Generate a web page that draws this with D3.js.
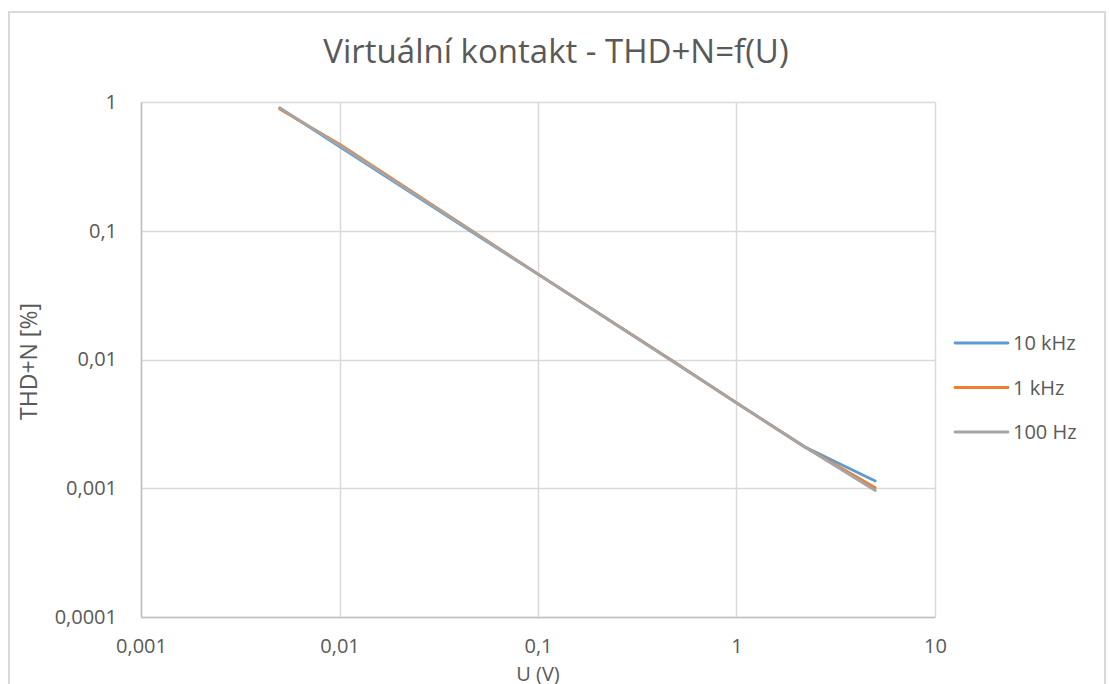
<!DOCTYPE html>
<html>
<head>
<meta charset="utf-8">
<script src="https://cdn.jsdelivr.net/npm/d3@7"></script>
<style>
  body { margin: 0; background: #fff; }
  text { font-family: "Open Sans", "Liberation Sans", sans-serif; fill: #595959; }
</style>
</head>
<body>
<script>
// data
var voltages = [0.005, 0.01, 0.05, 0.1, 0.5, 1, 2.2, 5];
var thd10k  = [0.9, 0.45, 0.091, 0.046, 0.0093, 0.0046, 0.0021, 0.00114];
var thd1k   = [0.88, 0.47, 0.093, 0.046, 0.0093, 0.0046, 0.0021, 0.00101];
var thd100  = [0.9, 0.46, 0.092, 0.046, 0.0092, 0.0046, 0.0021, 0.00096];
var seriesNames = ["10 kHz", "1 kHz", "100 Hz"];
var xTicks = [0.001, 0.01, 0.1, 1, 10];
var yTicks = [0.0001, 0.001, 0.01, 0.1, 1];
var colors = ["#5B9BD5", "#ED7D31", "#A5A5A5"];

var W = 1109, H = 684;
var margin = {top: 102, right: 174, bottom: 67, left: 141};
var width = W - margin.left - margin.right;
var height = H - margin.top - margin.bottom;

var svg = d3.select("body").append("svg")
    .attr("width", W)
    .attr("height", H);

// chart frame
svg.append("rect")
    .attr("x", 9).attr("y", 12)
    .attr("width", 1096).attr("height", 700)
    .attr("fill", "#fff")
    .attr("stroke", "#d9d9d9")
    .attr("stroke-width", 2);

svg.append("text")
    .attr("x", 556).attr("y", 63)
    .attr("text-anchor", "middle")
    .style("font-size", "33px")
    .text("Virtuální kontakt - THD+N=f(U)");

var xScale = d3.scaleLog().domain([0.001, 10]).range([0, width]);
var yScale = d3.scaleLog().domain([0.0001, 1]).range([height, 0]);

var fmt = function(d) { return String(d).replace(".", ","); };

var g = svg.append("g")
    .attr("transform", "translate(" + margin.left + "," + margin.top + ")");

// gridlines
g.append("g").selectAll("line.gx")
    .data(xTicks).enter().append("line")
    .attr("x1", function(d) { return Math.round(xScale(d)) + 0.5; })
    .attr("x2", function(d) { return Math.round(xScale(d)) + 0.5; })
    .attr("y1", 0).attr("y2", height)
    .attr("stroke", "#d9d9d9").attr("stroke-width", 1.5);

g.append("g").selectAll("line.gy")
    .data(yTicks).enter().append("line")
    .attr("x1", 0).attr("x2", width)
    .attr("y1", function(d) { return Math.round(yScale(d)) + 0.5; })
    .attr("y2", function(d) { return Math.round(yScale(d)) + 0.5; })
    .attr("stroke", "#d9d9d9").attr("stroke-width", 1.5);

// axes (labels only, Excel style)
var xAxis = d3.axisBottom(xScale).tickValues(xTicks).tickFormat(fmt).tickSize(0);
var yAxis = d3.axisLeft(yScale).tickValues(yTicks).tickFormat(fmt).tickSize(0).tickPadding(24);

var gx = g.append("g").attr("transform", "translate(0," + height + ")").call(xAxis);
gx.select(".domain").attr("stroke", "#bfbfbf").attr("stroke-width", 1.5);
gx.selectAll("text").style("font-size", "20px").attr("fill", "#595959")
    .attr("y", 36).attr("dy", 0);

var gy = g.append("g").call(yAxis);
gy.select(".domain").attr("stroke", "#bfbfbf").attr("stroke-width", 1.5);
gy.selectAll("text").style("font-size", "20px").attr("fill", "#595959");

// axis titles
svg.append("text")
    .attr("x", margin.left + xScale(0.1)).attr("y", 681)
    .attr("text-anchor", "middle")
    .style("font-size", "20px")
    .text("U (V)");

svg.append("text")
    .attr("transform", "translate(37," + (margin.top + height / 2 + 2) + ") rotate(-90)")
    .attr("text-anchor", "middle")
    .style("font-size", "23px")
    .text("THD+N [%]");

// series
var allSeries = [thd10k, thd1k, thd100].map(function(vals, i) {
    return {
        name: seriesNames[i],
        values: voltages.map(function(u, j) { return {u: u, thd: vals[j]}; })
    };
});

var line = d3.line()
    .x(function(d) { return xScale(d.u); })
    .y(function(d) { return yScale(d.thd); });

g.selectAll("path.series")
    .data(allSeries).enter().append("path")
    .attr("d", function(d) { return line(d.values); })
    .attr("fill", "none")
    .attr("stroke", function(d, i) { return colors[i]; })
    .attr("stroke-width", 2.8)
    .attr("stroke-linecap", "round")
    .attr("stroke-linejoin", "round");

// legend
var legend = svg.append("g").attr("transform", "translate(955,343)");
var items = legend.selectAll("g")
    .data(allSeries).enter().append("g")
    .attr("transform", function(d, i) { return "translate(0," + i * 44.5 + ")"; });
items.append("line")
    .attr("x1", 0).attr("x2", 53)
    .attr("stroke", function(d, i) { return colors[i]; })
    .attr("stroke-width", 2.8)
    .attr("stroke-linecap", "round");
items.append("text")
    .attr("x", 58).attr("dy", "0.35em")
    .style("font-size", "20px")
    .text(function(d) { return d.name; });
</script>
</body>
</html>
